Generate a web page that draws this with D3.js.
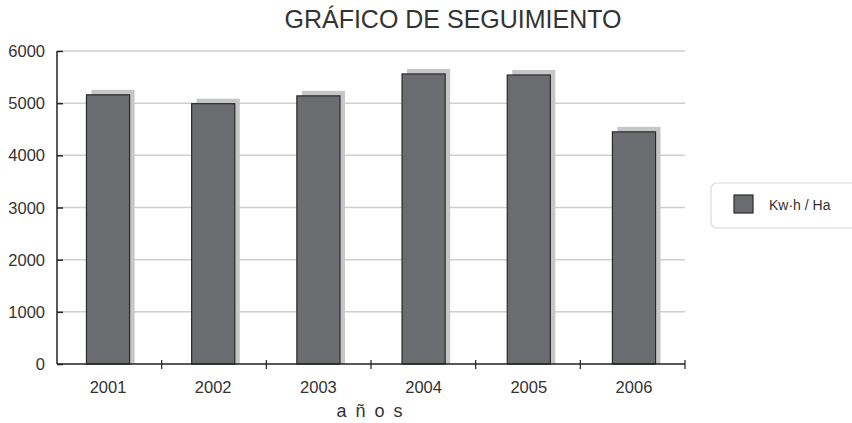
<!DOCTYPE html>
<html>
<head>
<meta charset="utf-8">
<script src="https://cdn.jsdelivr.net/npm/d3@7"></script>
<style>
  body { margin: 0; background: #fff; }
  text { font-family: "Liberation Sans", Arial, sans-serif; fill: #333; }
</style>
</head>
<body>
<div id="chart"></div>
<script>
var years = ["2001", "2002", "2003", "2004", "2005", "2006"];
var kwh = [5160, 4990, 5140, 5560, 5540, 4450];
var yTicks = [0, 1000, 2000, 3000, 4000, 5000, 6000];

var W = 852, H = 423;
var margin = { top: 51, right: 167, bottom: 59, left: 57 },
    width = W - margin.left - margin.right,
    height = H - margin.top - margin.bottom;

var svg = d3.select("#chart").append("svg")
    .attr("width", W)
    .attr("height", H);

svg.append("text")
    .attr("x", 453)
    .attr("y", 28)
    .attr("text-anchor", "middle")
    .style("font-size", "25px")
    .text("GRÁFICO DE SEGUIMIENTO");

var g = svg.append("g")
    .attr("transform", "translate(" + margin.left + "," + margin.top + ")");

var x = d3.scaleBand().domain(years).range([0, width]).paddingInner(0.59).paddingOuter(0.28);
var y = d3.scaleLinear().domain([0, 6000]).range([height, 0]);

// grid
g.selectAll(".grid")
    .data(yTicks.filter(function (d) { return d > 0; }))
    .enter().append("line")
    .attr("x1", 0).attr("x2", width)
    .attr("y1", function (d) { return y(d); })
    .attr("y2", function (d) { return y(d); })
    .style("stroke", "#cfcfcf")
    .style("stroke-width", 1.5);

// shadows
g.selectAll(".shadow")
    .data(kwh)
    .enter().append("rect")
    .attr("x", function (d, i) { return x(years[i]) + 5; })
    .attr("y", function (d) { return y(d) - 5; })
    .attr("width", x.bandwidth())
    .attr("height", function (d) { return height - y(d) + 5; })
    .style("fill", "#c6c6c6");

// bars
g.selectAll(".bar")
    .data(kwh)
    .enter().append("rect")
    .attr("x", function (d, i) { return x(years[i]); })
    .attr("y", function (d) { return y(d); })
    .attr("width", x.bandwidth())
    .attr("height", function (d) { return height - y(d); })
    .style("fill", "#6b6c70")
    .style("stroke", "#2a2a2a")
    .style("stroke-width", 1.2);

// y axis
var yAxis = g.append("g")
    .call(d3.axisRight(y).tickValues(yTicks).tickSize(6).tickFormat(""));
yAxis.select(".domain").remove();
yAxis.selectAll(".tick line").style("stroke", "#222").style("stroke-width", 1.5);
g.append("line")
    .attr("x1", 0).attr("x2", 0).attr("y1", y(6000)).attr("y2", height)
    .style("stroke", "#222").style("stroke-width", 1.5);
g.selectAll(".ylab")
    .data(yTicks)
    .enter().append("text")
    .attr("x", -12)
    .attr("y", function (d) { return y(d) + 6; })
    .attr("text-anchor", "end")
    .style("font-size", "16.5px")
    .text(function (d) { return d; });

// x axis
g.append("line")
    .attr("x1", 0).attr("x2", width).attr("y1", height).attr("y2", height)
    .style("stroke", "#222").style("stroke-width", 1.5);
var step = width / years.length;
g.selectAll(".xtick")
    .data(d3.range(1, years.length + 1))
    .enter().append("line")
    .attr("x1", function (d) { return d * step; })
    .attr("x2", function (d) { return d * step; })
    .attr("y1", height - 4).attr("y2", height + 5)
    .style("stroke", "#222").style("stroke-width", 1.2);
g.selectAll(".xlab")
    .data(years)
    .enter().append("text")
    .attr("x", function (d) { return x(d) + x.bandwidth() / 2; })
    .attr("y", height + 29)
    .attr("text-anchor", "middle")
    .style("font-size", "16.5px")
    .text(function (d) { return d; });

svg.append("text")
    .attr("x", 374)
    .attr("y", 417)
    .attr("text-anchor", "middle")
    .style("font-size", "18px")
    .style("letter-spacing", "9px")
    .text("años");

// legend
var leg = svg.append("g").attr("transform", "translate(711,183)");
leg.append("rect")
    .attr("x", 0).attr("y", 0).attr("width", 160).attr("height", 45)
    .attr("rx", 6)
    .style("fill", "#fff").style("stroke", "#dadada").style("stroke-width", 1.2);
leg.append("rect")
    .attr("x", 23).attr("y", 12).attr("width", 19).attr("height", 18)
    .style("fill", "#6b6c70").style("stroke", "#2a2a2a").style("stroke-width", 1.2);
leg.append("text")
    .attr("x", 58).attr("y", 27)
    .style("font-size", "14px")
    .text("Kw·h / Ha");
</script>
</body>
</html>
